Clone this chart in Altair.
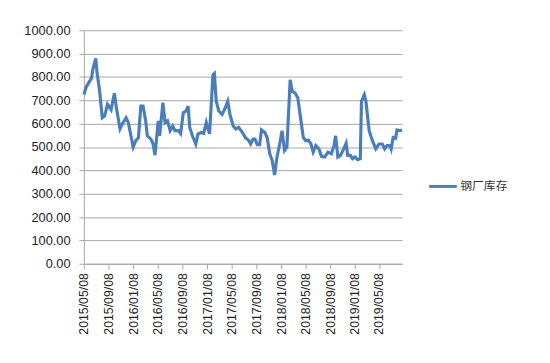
import altair as alt
import pandas as pd

dates = [
    "2015/05/08", "2015/05/21", "2015/06/15", "2015/06/22", "2015/07/06", "2015/07/12",
    "2015/07/25", "2015/08/07", "2015/08/19", "2015/09/02", "2015/09/20", "2015/10/06",
    "2015/10/16", "2015/11/03", "2015/11/15", "2015/12/03", "2015/12/14", "2016/01/07",
    "2016/01/20", "2016/02/02", "2016/02/14", "2016/02/25", "2016/03/09", "2016/03/17",
    "2016/04/03", "2016/04/14", "2016/04/24", "2016/05/10", "2016/05/17", "2016/06/02",
    "2016/06/13", "2016/06/25", "2016/07/08", "2016/07/21", "2016/08/01", "2016/08/18",
    "2016/08/29", "2016/09/11", "2016/09/24", "2016/10/05", "2016/10/13", "2016/10/26",
    "2016/11/12", "2016/11/23", "2016/12/09", "2016/12/21", "2017/01/03", "2017/01/19",
    "2017/02/05", "2017/02/12", "2017/02/21", "2017/03/06", "2017/03/22", "2017/04/07",
    "2017/04/19", "2017/04/30", "2017/05/16", "2017/05/29", "2017/06/12", "2017/07/01",
    "2017/07/17", "2017/07/30", "2017/08/11", "2017/08/22", "2017/09/01", "2017/09/12",
    "2017/09/24", "2017/10/03", "2017/10/20", "2017/10/31", "2017/11/13", "2017/11/25",
    "2017/12/07", "2017/12/19", "2018/01/01", "2018/01/13", "2018/01/25", "2018/02/06",
    "2018/02/22", "2018/03/05", "2018/03/19", "2018/04/01", "2018/04/12", "2018/04/28",
    "2018/05/10", "2018/05/23", "2018/06/05", "2018/06/16", "2018/06/29", "2018/07/14",
    "2018/07/27", "2018/08/12", "2018/08/28", "2018/09/14", "2018/09/27", "2018/10/05",
    "2018/10/16", "2018/10/29", "2018/11/14", "2018/11/26", "2018/12/04", "2018/12/17",
    "2018/12/28", "2019/01/09", "2019/01/22", "2019/02/04", "2019/02/10", "2019/02/24",
    "2019/03/04", "2019/03/20", "2019/04/05", "2019/04/22", "2019/05/08", "2019/05/24",
    "2019/06/05", "2019/06/17", "2019/07/01", "2019/07/07", "2019/07/17", "2019/07/29",
    "2019/08/05", "2019/08/19", "2019/08/30",
]

values = [
    725, 760, 795, 835, 880, 820,
    740, 625, 633, 683, 660, 730,
    668, 578, 600, 625, 605, 500,
    527, 540, 675, 675, 612, 548,
    535, 515, 465, 612, 548, 690,
    605, 612, 570, 590, 570, 570,
    558, 647, 654, 675, 584, 548,
    513, 556, 562, 558, 605, 556,
    809, 815, 696, 654, 640, 668,
    696, 640, 590, 577, 584, 562,
    538, 530, 513, 534, 534, 510,
    510, 573, 562, 541, 471, 443,
    380, 457, 513, 570, 485, 500,
    788, 738, 731, 710, 640, 541,
    527, 530, 513, 478, 506, 492,
    460, 457, 478, 471, 506, 548,
    457, 464, 492, 516, 464, 464,
    450, 457, 446, 450, 696, 724,
    696, 570, 527, 492, 513, 513,
    492, 506, 506, 492, 541, 538,
    573, 570, 573,
]

series_name = "钢厂库存"

tick_dates = [
    (2015, 5, 8), (2015, 9, 8), (2016, 1, 8), (2016, 5, 8), (2016, 9, 8),
    (2017, 1, 8), (2017, 5, 8), (2017, 9, 8), (2018, 1, 8), (2018, 5, 8),
    (2018, 9, 8), (2019, 1, 8), (2019, 5, 8),
]
y_ticks = [0, 100, 200, 300, 400, 500, 600, 700, 800, 900, 1000]

df = pd.DataFrame({"date": dates, "value": values, "series": series_name})

font = "Liberation Sans"

chart = alt.Chart(df).mark_line(strokeWidth=3.2, color="#4a7ebb").encode(
    x=alt.X(
        "date:T",
        scale=alt.Scale(
            domain=[alt.DateTime(year=2015, month=5, date=8),
                    alt.DateTime(year=2019, month=8, date=30)],
            nice=False,
        ),
        axis=alt.Axis(
            title=None,
            values=[alt.DateTime(year=y, month=m, date=d) for (y, m, d) in tick_dates],
            format="%Y/%m/%d",
            labelAngle=-90,
            labelAlign="right",
            labelBaseline="middle",
            labelFont=font,
            labelFontSize=12.5,
            labelColor="#222222",
            labelPadding=4,
            grid=False,
            domainColor="#a6a6a6",
            tickColor="#a6a6a6",
            tickSize=5,
            labelOverlap=False,
        ),
    ),
    y=alt.Y(
        "value:Q",
        scale=alt.Scale(domain=[0, 1000], nice=False),
        axis=alt.Axis(
            title=None,
            values=y_ticks,
            format=".2f",
            labelFont=font,
            labelFontSize=13,
            labelColor="#222222",
            labelPadding=9,
            ticks=True,
            tickSize=5,
            tickColor="#a6a6a6",
            domain=True,
            domainColor="#a6a6a6",
            gridColor="#a6a6a6",
            gridWidth=1,
        ),
    ),
    stroke=alt.Stroke(
        "series:N",
        scale=alt.Scale(range=["#4a7ebb"]),
        legend=alt.Legend(
            title=None,
            orient="none",
            legendX=349,
            legendY=143,
            symbolType="stroke",
            symbolStrokeWidth=3,
            symbolSize=784,
            labelOffset=2,
            labelFont="Noto Sans CJK SC",
            labelFontSize=12,
            labelColor="#333333",
        ),
    ),
).properties(
    width=323,
    height=237,
    autosize="none",
    padding={"left": 77, "top": 20, "right": 142, "bottom": 90},
).configure_view(stroke=None)

chart.save("out.html", embed_options={"renderer": "svg", "actions": False})
